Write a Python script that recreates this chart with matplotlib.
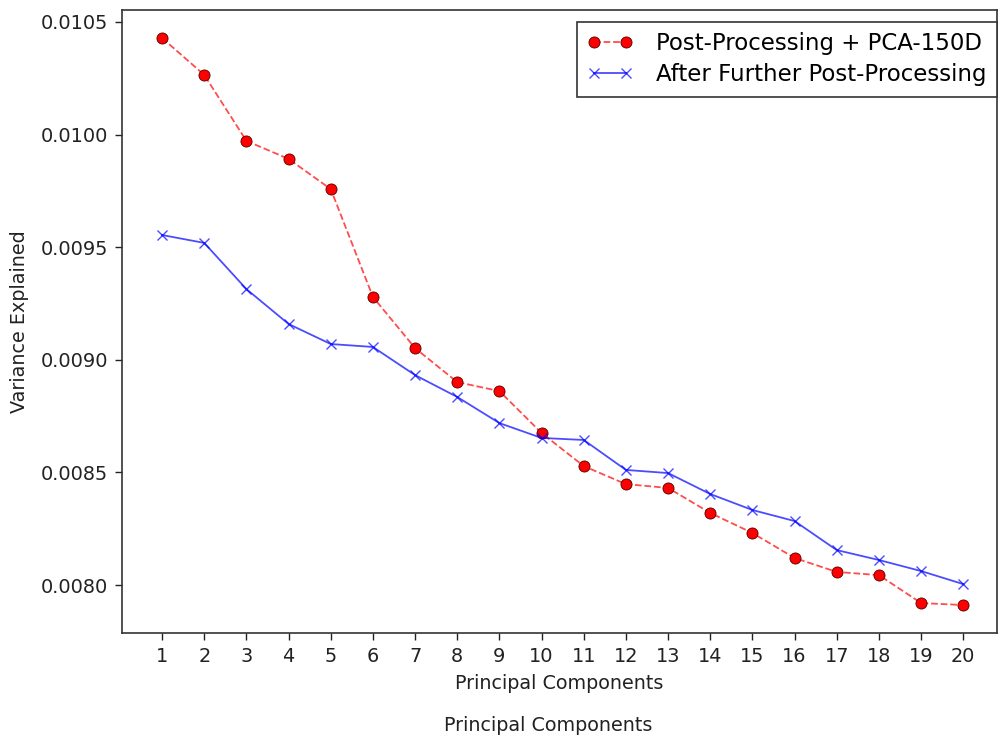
import numpy as np
import matplotlib
matplotlib.use("Agg")
import matplotlib.pyplot as plt

components = list(range(1, 21))
post_pca = [0.010429, 0.010265, 0.009972, 0.009892, 0.009758, 0.009279, 0.009052,
            0.008901, 0.008861, 0.008675, 0.008528, 0.008448, 0.008431, 0.008320,
            0.008231, 0.008120, 0.008058, 0.008044, 0.007920, 0.007911]
further_post = [0.009554, 0.009519, 0.009314, 0.009159, 0.009070, 0.009057, 0.008932,
                0.008835, 0.008719, 0.008653, 0.008644, 0.008511, 0.008497, 0.008404,
                0.008333, 0.008284, 0.008155, 0.008111, 0.008062, 0.008004]

fig = plt.figure(figsize=(10, 7.38), dpi=100)
ax = fig.add_axes([0.122, 0.1423, 0.875, 0.8441])

ax.plot(components, post_pca, color=(1, 0, 0, 0.7), linestyle='--', linewidth=1.3,
        marker='o', markersize=8, markerfacecolor='red', markeredgecolor='#550000',
        markeredgewidth=0.6, label='Post-Processing + PCA-150D')
ax.plot(components, further_post, color=(0, 0, 1, 0.7), linestyle='-', linewidth=1.3,
        marker='x', markersize=7, label='After Further Post-Processing')

ax.set_xlim(0.05, 20.8)
ax.set_ylim(0.007787, 0.010553)
ax.set_xticks(components)
ax.set_yticks([0.0080, 0.0085, 0.0090, 0.0095, 0.0100, 0.0105])
ax.set_yticklabels(['0.0080', '0.0085', '0.0090', '0.0095', '0.0100', '0.0105'])
ax.tick_params(direction='out', length=5, width=1, labelsize=13.9, colors='#222222',
               top=False, right=False, pad=5)
for s in ax.spines.values():
    s.set_linewidth(1.2)
    s.set_color('#333333')

ax.set_xlabel('Principal Components', fontsize=13.8, color='#222222', labelpad=6)
ax.set_ylabel('Variance Explained', fontsize=13.8, color='#222222', labelpad=8)
fig.text(0.548, 0.009, 'Principal Components', fontsize=13.8, color='#222222', ha='center')

leg = ax.legend(loc='upper right', bbox_to_anchor=(1.0, 0.981), fontsize=16.5,
                fancybox=False, borderaxespad=0, numpoints=2, handlelength=2.0,
                framealpha=1, borderpad=0.45, labelspacing=0.35, handletextpad=1.0)
leg.get_frame().set_edgecolor('#333333')
leg.get_frame().set_linewidth(1.2)

fig.savefig('out.png', dpi=100)
